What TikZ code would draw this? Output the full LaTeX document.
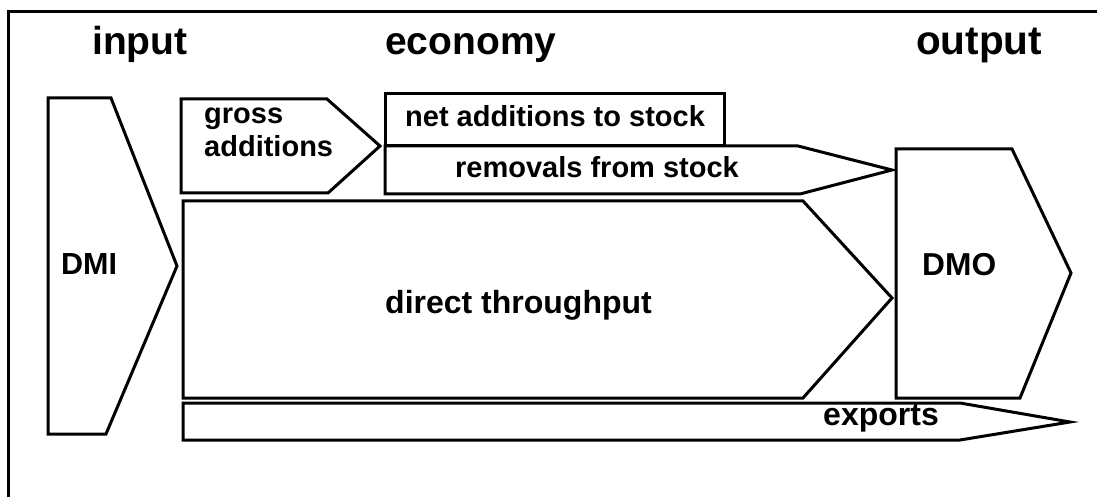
\documentclass[tikz,border=0pt]{standalone}
\usepackage{fontspec}
\setmainfont{Liberation Sans}
\newcommand{\bsize}[1]{\bfseries\fontsize{#1}{1.15\dimexpr#1pt\relax}\selectfont}
\begin{document}
\begin{tikzpicture}[x=1pt,y=-1pt,
  flow/.style={draw=black,line width=3pt,fill=white,line join=miter},
  frame/.style={draw=black,line width=3pt},
  title/.style={anchor=base west,inner sep=0pt,font=\bsize{39}},
  label/.style={anchor=base west,inner sep=0pt,font=\bsize{29}},
  biglabel/.style={anchor=base west,inner sep=0pt,font=\bsize{32}}]
\useasboundingbox (0,0) rectangle (1097,497);

% frame lines along the top and the left side
\draw[frame] (1097,12) -- (8,12) -- (8,497);

% column headings
\node[title] (tin) at (92,55) {input};
\node[title] (teco) at (385,55) {economy};
\node[title,font=\bsize{40.5}] (tout) at (916,55) {output};

% flow shapes
\draw[flow] (48,98) -- (111,98) -- (177,266) -- (106,434) -- (48,434) -- cycle;
\draw[flow] (181,99) -- (327,99) -- (380,146) -- (328,193) -- (181,193) -- cycle;
\draw[flow] (385,94) rectangle (724,146);
\draw[flow] (385,146) -- (798,146) -- (892,170) -- (800,194) -- (385,194) -- cycle;
\draw[flow] (183,201) -- (803,201) -- (892,298) -- (803,398) -- (183,398) -- cycle;
\draw[flow] (896,149) -- (1012,149) -- (1071,273) -- (1020,398) -- (896,398) -- cycle;
\draw[flow] (183,403) -- (960,403) -- (1070,422) -- (960,440) -- (183,440) -- cycle;

% labels
\node[label,font=\bsize{30.5}] (dmi) at (61,274) {DMI};
\node[label] (gross) at (204,124) {gross};
\node[label] (adds) at (204,157) {additions};
\node[label] (net) at (405,127) {net additions to stock};
\node[label] (rem) at (455,178) {removals from stock};
\node[biglabel] (dt) at (385,313) {direct throughput};
\node[biglabel,font=\bsize{31.7}] (dmo) at (922,275) {DMO};
\node[biglabel] (exp) at (823,425) {exports};
\end{tikzpicture}
\end{document}
